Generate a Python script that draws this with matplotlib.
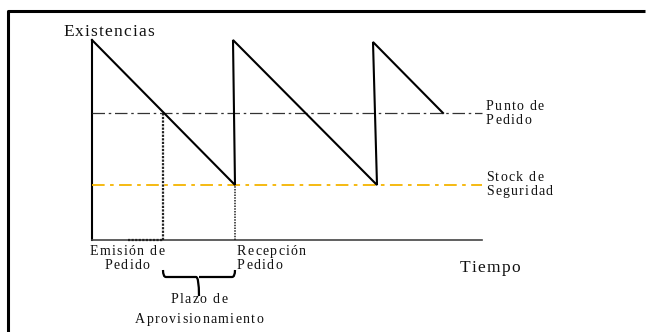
import matplotlib.pyplot as plt
from matplotlib.path import Path
from matplotlib.patches import PathPatch
from matplotlib.transforms import offset_copy
from matplotlib.font_manager import FontProperties, findfont, get_font

# sawtooth inventory curve (time, stock)
saw_t = [0, 71.5, 70.5, 142.5, 140.5, 175.5]
saw_q = [100, 27.5, 100, 27.5, 99, 63.5]

reorder_point = 63.5
safety_stock = 27.5
t_end = 195
t_order = 35.5
t_receive = 71.5

DPI = 100
FAMILY = 'Liberation Serif'

fig = plt.figure(figsize=(6.46, 3.32), dpi=DPI)
ax = fig.add_axes([0, 0, 1, 1])
ax.set_xlim(-46, 277)
ax.set_ylim(-46, 120)
ax.axis('off')


def spaced_text(x, y, s, size, ha='left', spacing=1.3, color='#111111'):
    # draw text char by char with extra letter spacing (pixels)
    font = get_font(findfont(FontProperties(family=FAMILY)))
    font.set_size(size, DPI)
    adv = [font.load_char(ord(c)).linearHoriAdvance / 65536 for c in s]
    total = sum(adv) + spacing * (len(s) - 1)
    start = {'left': 0, 'center': -total / 2, 'right': -total}[ha]
    off = start
    for c, a in zip(s, adv):
        tr = offset_copy(ax.transData, fig=fig, x=off, y=0, units='dots')
        ax.text(x, y, c, transform=tr, fontsize=size, family=FAMILY,
                color=color, ha='left', va='baseline')
        off += a + spacing


# outer frame (top and left)
ax.plot([0.012, 0.012, 0.9985], [0, 0.968, 0.968], color='black', lw=2.2,
        transform=ax.transAxes, solid_capstyle='butt', clip_on=False)

# axes
ax.plot([0, 0], [0, 100], color='black', lw=1.5)
ax.plot([0, t_end], [0, 0], color='#444444', lw=1.2)

# reference levels
ax.plot([0, t_end], [reorder_point] * 2, color='#333333', lw=0.9,
        dashes=(10, 3, 2, 3))
ax.plot([0, t_end], [safety_stock] * 2, color='#F5B400', lw=1.3,
        dashes=(7, 3, 2, 3))

# dotted guides
ax.plot([t_order, t_order], [0, reorder_point], color='#222222', lw=1.6,
        linestyle=(0, (1, 0.6)))
ax.plot([t_receive, t_receive], [0, safety_stock], color='#222222', lw=1.1,
        linestyle=(0, (1, 0.8)))
ax.plot([18, t_order], [0, 0], color='#222222', lw=1.6,
        linestyle=(0, (1, 0.6)))

ax.plot(saw_t, saw_q, color='black', lw=1.5, solid_joinstyle='miter')

# brace under lead time
y0, y1, ym = -15, -18.5, -28
xm = (t_order + t_receive) / 2
verts = [(t_order, y0), (t_order, y1), (t_order + 1.5, y1),
         (xm - 1.5, y1), (xm, y1), (xm, ym),
         (xm, y1), (xm + 1.5, y1),
         (t_receive - 1.5, y1), (t_receive, y1), (t_receive, y0)]
codes = [Path.MOVETO, Path.CURVE3, Path.CURVE3,
         Path.LINETO, Path.CURVE3, Path.LINETO,
         Path.MOVETO, Path.LINETO,
         Path.LINETO, Path.CURVE3, Path.CURVE3]
ax.add_patch(PathPatch(Path(verts, codes), fill=False, lw=1.6, color='black'))

sm = 10
spaced_text(-14.5, 102, 'Existencias', 12.5, spacing=1.2)
spaced_text(197, 65, 'Punto de', sm)
spaced_text(197, 58, 'Pedido', sm)
spaced_text(197, 29.5, 'Stock de', sm)
spaced_text(197, 22.5, 'Seguridad', sm)
spaced_text(17.5, -7.5, 'Emisión de', sm, ha='center')
spaced_text(17.5, -14.5, 'Pedido', sm, ha='center')
spaced_text(72.5, -7.5, 'Recepción', sm)
spaced_text(72.5, -14.5, 'Pedido', sm)
spaced_text(xm, -31.5, 'Plazo de', sm, ha='center')
spaced_text(xm, -41.5, 'Aprovisionamiento', sm, ha='center')
spaced_text(184, -16, 'Tiempo', 12.5, spacing=1.2)

fig.savefig('out.png', dpi=DPI)
